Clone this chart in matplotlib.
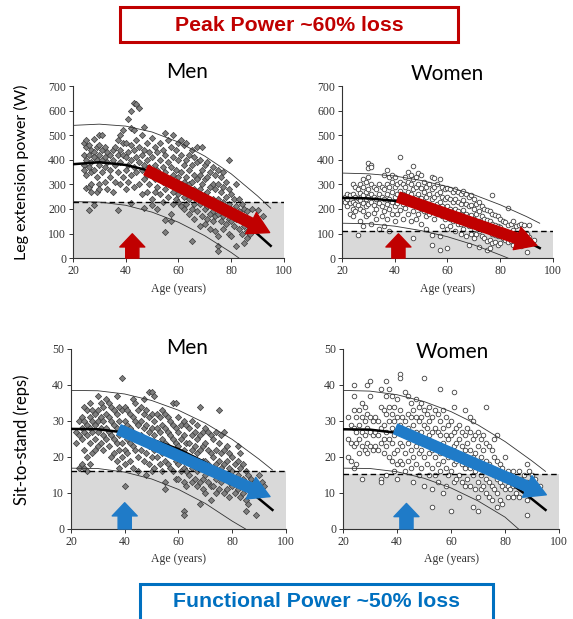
import numpy as np
import matplotlib
matplotlib.use("Agg")
import matplotlib.pyplot as plt
from matplotlib.patches import Rectangle

## ---------------- data ----------------

men_power = [(24,470),(24,420),(24,380),(24,360),(25,480),(25,450),(25,400),(25,340),(25,285),(26,460),(26,420),(26,370),(26,290),(26,195),
    (27,440),(27,390),(27,350),(27,300),(27,270),(28,485),(28,430),(28,410),(28,360),(28,215),(29,450),(29,400),(29,330),(29,270),
    (30,500),(30,460),(30,420),(30,380),(30,300),(30,280),(31,500),(31,440),(31,400),(31,350),(32,450),(32,410),(32,370),(32,310),
    (33,430),(33,390),(33,280),(34,420),(34,360),(34,330),(35,440),(35,400),(35,270),(36,450),(36,380),(36,310),(37,480),(37,420),
    (37,350),(37,195),(38,500),(38,440),(38,390),(38,300),(39,520),(39,470),(39,420),(39,330),(40,470),(40,410),(40,360),(40,280),
    (41,565),(41,430),(41,380),(41,310),(42,600),(42,530),(42,460),(42,400),(42,340),(42,225),(43,630),(43,520),(43,440),(43,370),
    (43,290),(44,625),(44,480),(44,410),(44,350),(45,610),(45,450),(45,390),(45,300),(46,500),(46,420),(46,360),(46,260),(47,535),
    (47,440),(47,380),(47,320),(47,205),(48,470),(48,400),(48,340),(48,270),(49,430),(49,370),(49,300),(50,490),(50,410),(50,350),
    (50,240),(50,215),(51,450),(51,380),(51,320),(51,270),(52,430),(52,360),(52,290),(52,200),(53,470),(53,400),(53,330),(53,260),
    (54,440),(54,370),(54,310),(54,230),(55,510),(55,420),(55,350),(55,280),(55,155),(55,105),(56,480),(56,390),(56,320),(56,250),
    (57,450),(57,370),(57,300),(57,180),(57,150),(58,500),(58,410),(58,340),(58,270),(58,220),(59,440),(59,360),(59,290),(59,240),
    (60,470),(60,400),(60,330),(60,260),(60,230),(61,480),(61,420),(61,350),(61,290),(61,210),(62,460),(62,380),(62,310),(62,250),
    (62,200),(63,470),(63,400),(63,330),(63,270),(63,220),(64,420),(64,360),(64,300),(64,240),(64,180),(65,440),(65,380),(65,310),
    (65,260),(65,200),(65,70),(66,410),(66,340),(66,280),(66,220),(66,160),(67,450),(67,390),(67,320),(67,260),(67,190),(68,400),
    (68,340),(68,280),(68,220),(68,130),(69,450),(69,360),(69,300),(69,240),(69,170),(70,380),(70,320),(70,260),(70,200),(70,140),
    (71,390),(71,330),(71,270),(71,210),(71,160),(72,350),(72,290),(72,230),(72,180),(72,120),(73,370),(73,300),(73,240),(73,190),
    (73,150),(74,340),(74,280),(74,220),(74,170),(74,110),(75,360),(75,300),(75,240),(75,180),(75,90),(75,50),(75,30),(76,330),
    (76,270),(76,210),(76,150),(77,350),(77,290),(77,230),(77,170),(77,120),(78,310),(78,250),(78,190),(78,140),(79,400),(79,280),
    (79,220),(79,160),(79,100),(80,260),(80,200),(80,150),(80,90),(81,240),(81,180),(81,130),(82,300),(82,210),(82,160),(82,50),
    (83,240),(83,190),(83,120),(84,220),(84,150),(84,100),(85,200),(85,130),(85,60),(86,190),(86,110),(86,80),(87,150),(87,100),
    (88,200),(88,130),(90,195),(92,170)]

women_power = [(21,250),(21,230),(22,260),(22,240),(22,210),(23,255),(23,225),(23,180),(24,300),(24,260),(24,230),(24,200),(24,170),
    (25,290),(25,250),(25,220),(25,190),(26,280),(26,245),(26,215),(26,95),(27,300),(27,265),(27,235),(27,200),(27,150),(28,320),
    (28,290),(28,255),(28,225),(28,190),(28,130),(29,310),(29,270),(29,240),(29,210),(29,170),(30,385),(30,365),(30,330),(30,280),
    (30,250),(30,220),(30,180),(31,380),(31,370),(31,300),(31,260),(31,230),(31,140),(32,290),(32,250),(32,215),(32,185),(33,280),
    (33,240),(33,200),(33,160),(34,300),(34,260),(34,225),(34,120),(35,290),(35,250),(35,210),(35,170),(36,340),(36,280),(36,240),
    (36,190),(36,130),(37,360),(37,300),(37,260),(37,220),(37,160),(38,330),(38,290),(38,240),(38,200),(38,110),(39,340),(39,310),
    (39,270),(39,230),(39,180),(40,330),(40,290),(40,250),(40,210),(40,150),(41,300),(41,260),(41,225),(41,180),(42,410),(42,310),
    (42,275),(42,240),(42,195),(43,300),(43,260),(43,220),(43,160),(44,330),(44,290),(44,250),(44,205),(45,350),(45,310),(45,270),
    (45,230),(45,180),(46,340),(46,300),(46,260),(46,220),(46,150),(47,375),(47,320),(47,280),(47,240),(47,190),(47,80),(48,330),
    (48,290),(48,250),(48,210),(48,160),(49,345),(49,300),(49,260),(49,220),(49,180),(50,340),(50,285),(50,245),(50,200),(50,140),
    (51,310),(51,270),(51,230),(51,190),(52,290),(52,250),(52,210),(52,170),(52,120),(53,300),(53,260),(53,220),(53,180),(54,330),
    (54,280),(54,240),(54,200),(54,95),(54,55),(55,325),(55,290),(55,250),(55,210),(55,160),(56,300),(56,260),(56,220),(56,180),
    (57,320),(57,270),(57,230),(57,190),(57,90),(57,35),(58,290),(58,250),(58,210),(58,170),(58,130),(59,280),(59,240),(59,200),
    (59,160),(60,285),(60,250),(60,210),(60,170),(60,120),(60,40),(61,280),(61,240),(61,200),(61,160),(61,130),(62,270),(62,230),
    (62,190),(62,150),(63,280),(63,240),(63,200),(63,160),(63,110),(64,270),(64,230),(64,190),(64,140),(65,260),(65,220),(65,180),
    (65,140),(65,100),(66,275),(66,235),(66,195),(66,155),(66,120),(67,260),(67,220),(67,180),(67,140),(67,90),(68,250),(68,210),
    (68,170),(68,130),(68,55),(69,255),(69,215),(69,175),(69,135),(69,100),(70,240),(70,200),(70,160),(70,120),(70,80),(71,220),
    (71,180),(71,140),(71,100),(72,230),(72,190),(72,150),(72,110),(72,45),(73,210),(73,170),(73,130),(73,90),(74,200),(74,160),
    (74,120),(74,80),(75,195),(75,155),(75,115),(75,70),(75,35),(76,190),(76,150),(76,110),(76,75),(76,40),(77,255),(77,180),
    (77,140),(77,100),(77,60),(78,175),(78,135),(78,95),(78,65),(79,170),(79,130),(79,90),(79,55),(80,160),(80,125),(80,90),
    (80,60),(81,150),(81,115),(81,80),(82,145),(82,110),(82,75),(83,205),(83,135),(83,100),(83,65),(84,140),(84,105),(84,70),
    (85,150),(85,115),(85,85),(85,55),(86,130),(86,95),(86,60),(87,135),(87,100),(87,70),(88,140),(88,105),(88,50),(89,135),
    (89,90),(89,60),(90,100),(90,25),(91,135),(91,85),(93,75)]

men_reps = [(22,27),(22,24),(23,30),(23,26),(23,17),(24,31),(24,28),(24,25),(24,18),(25,34),(25,30),(25,27),(25,22),(25,17),
    (26,33),(26,29),(26,26),(26,20),(26,16),(27,35),(27,31),(27,28),(27,24),(27,18),(28,33),(28,30),(28,27),(28,21),(29,32),
    (29,29),(29,25),(29,22),(30,37),(30,33),(30,30),(30,27),(30,23),(31,35),(31,31),(31,28),(31,24),(32,34),(32,30),(32,26),
    (32,22),(33,36),(33,32),(33,28),(33,25),(34,35),(34,31),(34,27),(34,23),(35,34),(35,30),(35,26),(35,20),(36,33),(36,29),
    (36,25),(36,21),(37,37),(37,32),(37,28),(37,24),(37,19),(38,34),(38,30),(38,26),(38,22),(38,17),(39,42),(39,33),(39,28),
    (39,24),(39,20),(40,34),(40,30),(40,26),(40,22),(40,18),(40,12),(41,33),(41,29),(41,25),(41,21),(42,32),(42,28),(42,24),
    (42,19),(43,36),(43,31),(43,27),(43,23),(43,17),(44,35),(44,30),(44,26),(44,22),(45,33),(45,29),(45,25),(45,20),(45,16),
    (46,34),(46,30),(46,26),(46,22),(47,36),(47,32),(47,28),(47,24),(47,19),(48,33),(48,29),(48,25),(48,21),(48,15),(49,38),
    (49,31),(49,27),(49,23),(49,18),(50,38),(50,32),(50,28),(50,24),(50,20),(50,16),(51,37),(51,30),(51,26),(51,22),(51,17),
    (52,32),(52,28),(52,24),(52,20),(53,31),(53,27),(53,23),(53,18),(54,33),(54,29),(54,25),(54,21),(54,16),(55,32),(55,28),
    (55,24),(55,19),(55,13),(55,11),(56,31),(56,27),(56,23),(56,18),(57,30),(57,26),(57,22),(57,17),(58,35),(58,29),(58,25),
    (58,21),(58,16),(59,35),(59,28),(59,24),(59,19),(59,14),(60,31),(60,27),(60,23),(60,18),(60,14),(61,29),(61,25),(61,21),
    (61,16),(62,30),(62,26),(62,22),(62,17),(62,13),(62,5),(62,4),(63,29),(63,24),(63,20),(63,16),(63,12),(64,28),(64,24),
    (64,19),(64,15),(65,30),(65,26),(65,22),(65,17),(65,13),(66,27),(66,23),(66,18),(66,14),(67,29),(67,25),(67,21),(67,16),
    (67,12),(68,34),(68,26),(68,22),(68,17),(68,13),(68,7),(69,27),(69,23),(69,19),(69,14),(69,11),(70,28),(70,24),(70,19),
    (70,15),(70,10),(71,27),(71,22),(71,18),(71,13),(72,26),(72,21),(72,17),(72,12),(72,8),(73,25),(73,20),(73,16),(73,12),
    (74,27),(74,22),(74,18),(74,14),(74,10),(75,33),(75,24),(75,19),(75,15),(75,11),(76,26),(76,21),(76,17),(76,13),(77,27),
    (77,22),(77,18),(77,14),(77,10),(78,23),(78,19),(78,15),(78,11),(79,21),(79,17),(79,13),(79,9),(80,20),(80,16),(80,12),
    (81,18),(81,14),(81,10),(82,23),(82,19),(82,15),(82,11),(83,21),(83,17),(83,13),(83,9),(84,18),(84,14),(84,10),(85,16),
    (85,12),(85,8),(85,5),(86,15),(86,11),(86,7),(87,14),(87,10),(88,13),(89,4),(90,15),(91,13),(92,12)]

women_reps = [(22,31),(22,25),(22,20),(23,29),(23,24),(23,19),(24,40),(24,37),(24,33),(24,28),(24,23),(24,17),(25,31),(25,27),
    (25,24),(25,18),(26,33),(26,29),(26,25),(26,21),(27,35),(27,31),(27,27),(27,23),(27,14),(28,34),(28,30),(28,26),(28,22),
    (29,40),(29,32),(29,28),(29,24),(29,21),(30,41),(30,37),(30,31),(30,27),(30,23),(31,30),(31,26),(31,22),(32,31),(32,27),
    (32,23),(33,30),(33,26),(33,22),(34,39),(34,34),(34,28),(34,24),(34,14),(34,13),(35,33),(35,29),(35,25),(35,21),(36,41),
    (36,37),(36,32),(36,27),(36,23),(36,15),(37,39),(37,34),(37,30),(37,25),(37,20),(38,37),(38,32),(38,28),(38,24),(38,19),
    (39,34),(39,30),(39,26),(39,21),(39,16),(40,36),(40,31),(40,27),(40,22),(40,18),(40,14),(41,43),(41,42),(41,33),(41,29),
    (41,24),(41,19),(42,31),(42,27),(42,23),(42,18),(43,38),(43,30),(43,26),(43,21),(43,16),(44,37),(44,32),(44,28),(44,24),
    (44,19),(45,35),(45,31),(45,27),(45,22),(45,17),(46,33),(46,29),(46,25),(46,20),(46,13),(47,36),(47,31),(47,27),(47,23),
    (47,18),(48,34),(48,30),(48,26),(48,21),(48,15),(49,35),(49,31),(49,27),(49,22),(49,17),(50,42),(50,33),(50,29),(50,25),
    (50,20),(50,12),(51,32),(51,28),(51,24),(51,18),(52,34),(52,30),(52,26),(52,21),(52,15),(53,31),(53,27),(53,22),(53,17),
    (53,11),(53,6),(54,33),(54,28),(54,24),(54,20),(54,15),(55,32),(55,27),(55,23),(55,18),(55,13),(56,39),(56,30),(56,26),
    (56,21),(56,16),(57,33),(57,28),(57,24),(57,19),(57,10),(58,31),(58,26),(58,22),(58,17),(58,12),(59,29),(59,25),(59,20),
    (59,15),(60,30),(60,26),(60,21),(60,16),(60,5),(61,38),(61,34),(61,27),(61,23),(61,18),(61,13),(62,28),(62,24),(62,19),
    (62,14),(63,29),(63,25),(63,20),(63,15),(63,9),(64,27),(64,23),(64,18),(64,13),(65,33),(65,26),(65,22),(65,17),(65,12),
    (66,28),(66,24),(66,19),(66,14),(67,31),(67,27),(67,22),(67,17),(67,12),(68,30),(68,25),(68,20),(68,15),(68,6),(69,26),
    (69,21),(69,16),(69,11),(70,27),(70,23),(70,18),(70,13),(70,9),(70,5),(71,25),(71,20),(71,15),(71,11),(72,26),(72,22),
    (72,17),(72,12),(73,34),(73,24),(73,19),(73,14),(73,10),(74,23),(74,18),(74,13),(74,9),(75,22),(75,17),(75,12),(75,8),
    (76,25),(76,20),(76,15),(76,11),(77,26),(77,19),(77,14),(77,10),(77,6),(78,18),(78,13),(78,8),(79,17),(79,12),(79,7),
    (80,20),(80,15),(80,11),(81,16),(81,12),(81,9),(82,15),(82,11),(83,16),(83,12),(83,9),(84,14),(84,10),(85,16),(85,13),
    (85,9),(86,14),(86,11),(87,15),(87,12),(88,18),(88,13),(88,8),(88,4),(89,16),(89,11),(90,15),(91,14),(93,12)]

## fitted curves (age in steps of 10, end point last)
curve_age = [20, 30, 40, 50, 60, 70, 80, 90, 95]
men_power_mean  = [382, 390, 379, 353, 312, 256, 185, 98, 50]
men_power_upper = [540, 545, 537, 513, 472, 415, 343, 253, 203]
women_power_mean  = [245, 243, 233, 216, 190, 157, 116, 68, 41]
women_power_upper = [346, 343, 334, 316, 291, 258, 217, 169, 142]
men_reps_mean  = [27.8, 27.7, 26.8, 24.9, 22.2, 18.5, 13.9, 8.4, 5.3]
men_reps_upper = [38.5, 38.4, 37.5, 35.7, 33.0, 29.4, 24.9, 19.4, 16.4]
women_reps_mean  = [27.7, 27.6, 26.7, 24.8, 22.1, 18.4, 13.8, 8.3, 5.3]
women_reps_upper = [38.5, 38.3, 37.3, 35.4, 32.6, 28.9, 24.3, 18.9, 16.0]

lower_age_83 = [20, 30, 40, 50, 60, 70, 80, 83]
men_power_lower   = [230, 228, 215, 187, 146, 91, 23, 0]
women_power_lower = [142, 140, 130, 112, 87, 54, 13, 0]
lower_age_85 = [20, 30, 40, 50, 60, 70, 80, 85]
men_reps_lower   = [16.9, 16.8, 15.8, 13.9, 11.0, 7.1, 2.2, 0]
women_reps_lower = [16.9, 16.8, 15.9, 14.1, 11.4, 7.8, 3.3, 0]

thresholds = [230, 111, 16.2, 15.2]

## arrows: (tail, tip) in data units
trend_arrows = [((47.8, 358), (94.6, 104)), ((41.4, 248), (93.9, 52)),
                ((37.9, 27.6), (94.1, 9.0)), ((39.5, 27.8), (95.3, 9.5))]
up_arrows = [(42.5, 99), (41.4, 99), (40.0, 7.3), (43.5, 7.1)]

RED = '#C00000'
BLUE = '#1F7BC8'

## ---------------- figure ----------------

fig = plt.figure(figsize=(5.73, 6.19), dpi=100)

panels = [
    dict(rect=[0.1274, 0.583, 0.368, 0.278], pts=men_power, kind='men', ylim=(0, 700), yt=range(0, 701, 100),
         mean=men_power_mean, upper=men_power_upper, lage=lower_age_83, lower=men_power_lower, col=RED),
    dict(rect=[0.5969, 0.583, 0.368, 0.278], pts=women_power, kind='women', ylim=(0, 700), yt=range(0, 701, 100),
         mean=women_power_mean, upper=women_power_upper, lage=lower_age_83, lower=women_power_lower, col=RED),
    dict(rect=[0.1239, 0.1454, 0.375, 0.2908], pts=men_reps, kind='men', ylim=(0, 50), yt=range(0, 51, 10),
         mean=men_reps_mean, upper=men_reps_upper, lage=lower_age_85, lower=men_reps_lower, col=BLUE),
    dict(rect=[0.5986, 0.1454, 0.377, 0.2908], pts=women_reps, kind='women', ylim=(0, 50), yt=range(0, 51, 10),
         mean=women_reps_mean, upper=women_reps_upper, lage=lower_age_85, lower=women_reps_lower, col=BLUE),
]

for i, p in enumerate(panels):
    ax = fig.add_axes(p['rect'])
    ax.set_xlim(20, 100)
    ax.set_ylim(*p['ylim'])
    ax.set_xticks([20, 40, 60, 80, 100])
    ax.set_yticks(list(p['yt']))
    for s in ['top', 'right']:
        ax.spines[s].set_visible(False)
    for s in ['left', 'bottom']:
        ax.spines[s].set_color('#333333')
        ax.spines[s].set_linewidth(0.8)
    ax.tick_params(length=3, width=0.7, color='#333333', labelsize=8.5, labelcolor='#333333', pad=2)
    for lab in ax.get_xticklabels() + ax.get_yticklabels():
        lab.set_fontfamily('Liberation Serif')
    ax.set_xlabel('Age (years)', fontfamily='Liberation Serif', fontsize=8.5, color='#333333', labelpad=4)

    thr = thresholds[i]
    ax.axhspan(0, thr, color='#D9D9D9', zorder=0, lw=0)
    ax.axhline(thr, color='black', lw=1.0, ls=(0, (4, 2.5)), zorder=3)

    xy = np.array(p['pts'])
    if p['kind'] == 'men':
        ax.scatter(xy[:, 0], xy[:, 1], marker='D', s=10, facecolor='#7F7F7F', edgecolor='#3A3A3A', linewidth=0.5, zorder=2)
    else:
        ax.scatter(xy[:, 0], xy[:, 1], marker='o', s=11, facecolor='white', edgecolor='#404040', linewidth=0.6, zorder=2)

    ax.plot(curve_age, p['upper'], color='#333333', lw=0.6, zorder=3)
    ax.plot(p['lage'], p['lower'], color='#333333', lw=0.6, zorder=3)
    ax.plot(curve_age, p['mean'], color='black', lw=1.8, zorder=3)

    tail, tip = trend_arrows[i]
    ax.annotate('', xy=tip, xytext=tail, zorder=5,
                arrowprops=dict(arrowstyle='simple,head_length=1.5,head_width=1.7,tail_width=0.75',
                                color=p['col'], mutation_scale=10, shrinkA=0, shrinkB=0))
    ux, uy = up_arrows[i]
    ax.annotate('', xy=(ux, uy), xytext=(ux, 0), zorder=5,
                arrowprops=dict(arrowstyle='simple,head_length=0.95,head_width=1.8,tail_width=0.95',
                                color=p['col'], mutation_scale=10, shrinkA=0, shrinkB=0))

## panel titles and side labels
fig.text(0.326, 0.884, 'Men', ha='center', va='center', fontsize=15, fontfamily='Lato')
fig.text(0.780, 0.880, 'Women', ha='center', va='center', fontsize=15, fontfamily='Lato')
fig.text(0.326, 0.438, 'Men', ha='center', va='center', fontsize=15, fontfamily='Lato')
fig.text(0.789, 0.431, 'Women', ha='center', va='center', fontsize=15, fontfamily='Lato')
fig.text(0.038, 0.722, 'Leg extension power (W)', rotation=90, ha='center', va='center', fontsize=11.5, fontfamily='Lato')
fig.text(0.038, 0.289, 'Sit-to-stand (reps)', rotation=90, ha='center', va='center', fontsize=12, fontfamily='Lato')

## boxed headline texts
fig.patches.append(Rectangle((0.2094, 0.9321), 0.5899, 0.0565, transform=fig.transFigure,
                             fill=False, edgecolor=RED, lw=2.2))
fig.text(0.5044, 0.9596, 'Peak Power ~60% loss', ha='center', va='center', color=RED,
         fontsize=15.3, fontweight='bold', fontfamily='Liberation Sans')
fig.patches.append(Rectangle((0.2443, -0.01), 0.616, 0.0665, transform=fig.transFigure,
                             fill=False, edgecolor='#0070C0', lw=2.2))
fig.text(0.5515, 0.0275, 'Functional Power ~50% loss', ha='center', va='center', color='#0070C0',
         fontsize=15.3, fontweight='bold', fontfamily='Liberation Sans')

fig.savefig('out.png', dpi=100)
